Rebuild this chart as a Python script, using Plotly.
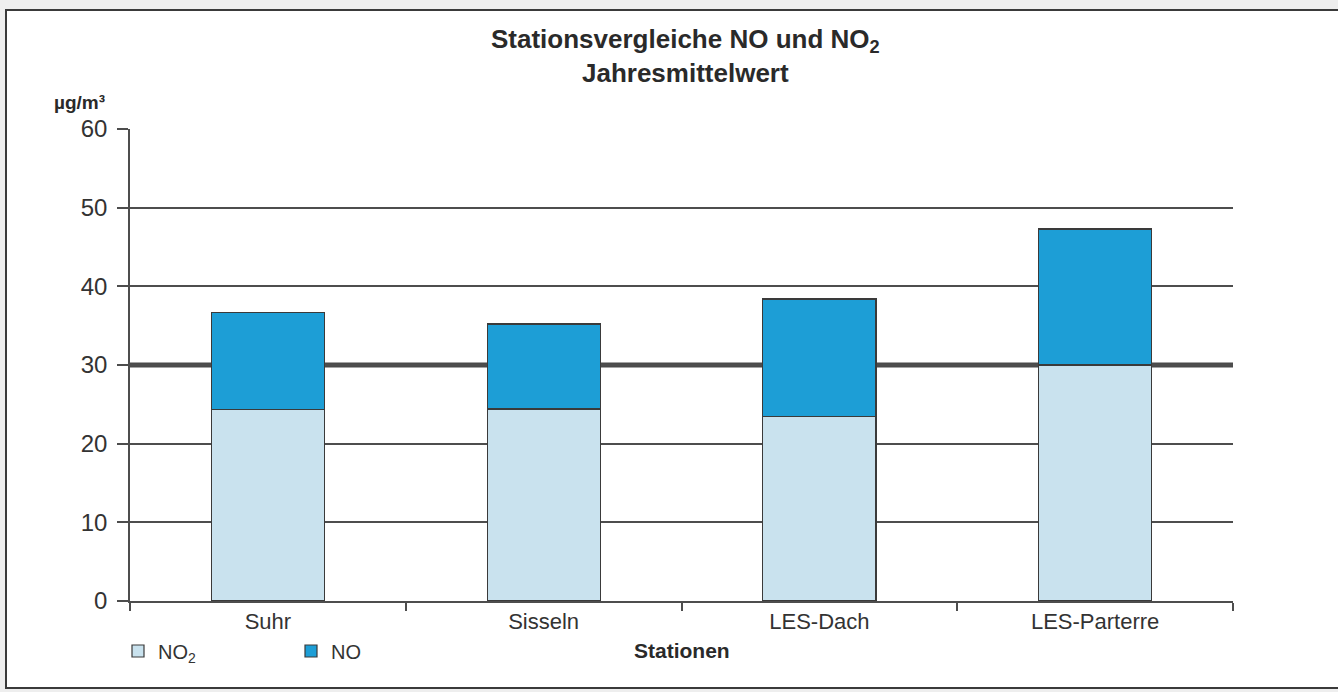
import plotly.graph_objects as go

stations = ["Suhr", "Sisseln", "LES-Dach", "LES-Parterre"]
no2_values = [24.3, 24.4, 23.5, 30.0]
no_values = [12.4, 10.8, 14.9, 17.3]
threshold = 30
y_ticks = [0, 10, 20, 30, 40, 50, 60]

W, H = 1338, 692
L, R, T, B = 130, 105, 129, 91
PW, PH = W - L - R, H - T - B

def px_x(p):
    return (p - L) / PW

def px_y(p):
    return (H - B - p) / PH

FONT = "Liberation Sans, Arial, sans-serif"
GRID = "#4d4d4d"

fig = go.Figure()
fig.add_trace(go.Bar(
    x=stations, y=no2_values, name="NO<sub>2</sub>",
    marker=dict(color="#c9e2ee", line=dict(color="#3a3a3a", width=1.2)),
    width=0.41,
))
fig.add_trace(go.Bar(
    x=stations, y=no_values, name="NO",
    marker=dict(color="#1d9ed6", line=dict(color="#3a3a3a", width=1.2)),
    width=0.41,
))

shapes = [
    # outer frame
    dict(type="rect", xref="paper", yref="paper",
         x0=px_x(6), x1=px_x(1350), y0=px_y(688), y1=px_y(10),
         line=dict(color="#3a3a3a", width=2), fillcolor="white", layer="below"),
    # threshold line
    dict(type="line", xref="x", yref="y", x0=-0.5, x1=3.5, y0=threshold, y1=threshold,
         line=dict(color="#4a4a4a", width=5), layer="below"),
]

annotations = [
    dict(text="<b>Stationsvergleiche NO und NO<sub>2</sub></b><br><b>Jahresmittelwert</b>",
         xref="paper", yref="paper", x=px_x(685), y=px_y(56),
         xanchor="center", yanchor="middle", showarrow=False,
         font=dict(family=FONT, size=26, color="#2a2a2a")),
    dict(text="<b>µg/m³</b>", xref="paper", yref="paper", x=px_x(52), y=px_y(102),
         xanchor="left", yanchor="middle", showarrow=False,
         font=dict(family=FONT, size=19, color="#2a2a2a")),
    dict(text="<b>Stationen</b>", xref="paper", yref="paper", x=px_x(682), y=px_y(650),
         xanchor="center", yanchor="middle", showarrow=False,
         font=dict(family=FONT, size=21, color="#2a2a2a")),
]

fig.update_layout(
    width=W, height=H,
    margin=dict(l=L, r=R, t=T, b=B, autoexpand=False),
    barmode="stack",
    paper_bgcolor="#eeeeee",
    plot_bgcolor="white",
    shapes=shapes,
    annotations=annotations,
    showlegend=True,
    legend=dict(orientation="h", x=px_x(118), y=px_y(651), xanchor="left", yanchor="middle",
                font=dict(family=FONT, size=20, color="#333333"),
                bgcolor="rgba(0,0,0,0)", entrywidth=128, entrywidthmode="pixels",
                traceorder="normal"),
    font=dict(family=FONT, color="#333333"),
)
fig.update_xaxes(
    type="category", tickson="boundaries", ticks="outside", ticklen=8,
    tickcolor=GRID, tickwidth=1.5, showline=True, linecolor=GRID, linewidth=1.5,
    showgrid=False, tickfont=dict(family=FONT, size=22, color="#333333"),
    range=[-0.5, 3.5],
)
fig.update_yaxes(
    range=[0, 60], tickvals=y_ticks, ticks="outside", ticklen=11,
    tickcolor=GRID, tickwidth=1.5, showline=True, linecolor=GRID, linewidth=1.5,
    showgrid=True, gridcolor=GRID, gridwidth=1.5, zeroline=False,
    tickfont=dict(family=FONT, size=24, color="#333333"), ticklabelstandoff=5,
)

fig.write_html("out.html")
